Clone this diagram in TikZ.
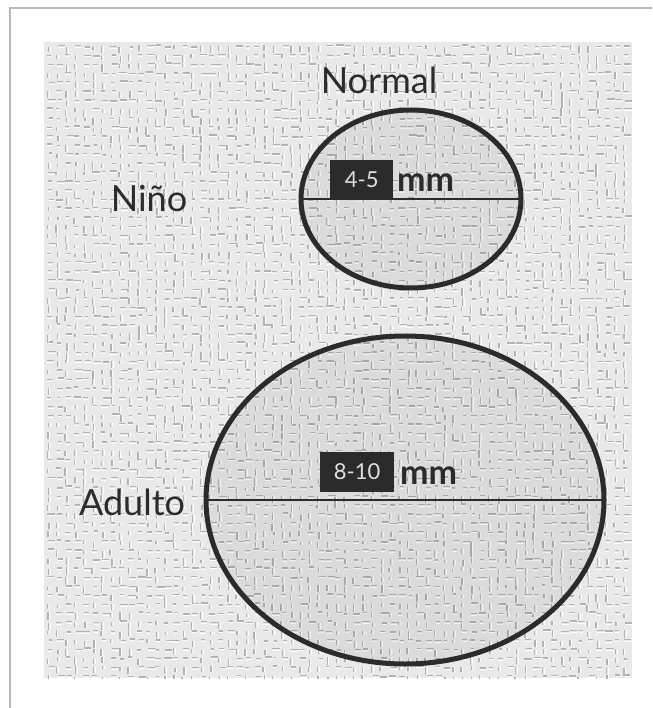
\documentclass[tikz,border=0pt]{standalone}
\usepackage{fontspec}
\setmainfont{Lato}
\usetikzlibrary{shapes.geometric}
\definecolor{ink}{HTML}{2B2B2B}
\definecolor{paper}{HTML}{E9E9E9}
\tikzset{
  frameline/.style={draw=gray!55, line width=1.5pt},
  weave/.style={draw=gray!60, line width=1.3pt},
  weavehi/.style={draw=white, line width=1pt},
  pupil/.style={ellipse, draw=ink, line width=5pt, inner sep=0pt, outer sep=0pt, fill=black, fill opacity=0.06},
  diam/.style={draw=ink, line width=2.2pt},
  label/.style={text=ink, font=\fontsize{36}{40}\selectfont, inner sep=0pt},
  valbox/.style={fill=ink, text=white!88!black, font=\fontsize{22}{24}\selectfont, inner sep=0pt, minimum height=40pt, anchor=south west},
  unit/.style={text=ink, font=\bfseries\fontsize{34}{38}\selectfont, inner sep=0pt, anchor=base west}
}
\begin{document}
\begin{tikzpicture}[x=1pt,y=-1pt]
\useasboundingbox (0,0) rectangle (652,708);
\fill[white] (0,0) rectangle (652,708);
\draw[frameline] (10,708) -- (10,8) -- (652,8);
% textured panel
\fill[paper] (44,42) rectangle (632,678);
\begin{scope}
\clip (44,42) rectangle (632,678);
\pgfmathsetseed{11}
\foreach \i in {0,...,64}{
  \foreach \j in {0,...,70}{
    \pgfmathsetmacro\xa{47+\i*9+2*rnd}
    \pgfmathsetmacro\ya{45+\j*9+2*rnd}
    \pgfmathsetmacro\len{3+5*rnd}
    \pgfmathparse{rnd<0.5 ? 1 : 0}
    \ifnum\pgfmathresult=1
      \draw[weave] (\xa,\ya) -- ++(\len,0);
      \draw[weavehi] (\xa,\ya+1.7) -- ++(\len,0);
    \else
      \draw[weave] (\xa,\ya) -- ++(0,\len);
      \draw[weavehi] (\xa+1.7,\ya) -- ++(0,\len);
    \fi
  }
}
\end{scope}
% child pupil
\node[pupil, minimum width=220pt, minimum height=178pt] (child) at (411,199) {};
\draw[diam] (child.west) -- (child.east);
\node[valbox, minimum width=63pt] (childval) at (330,200) {4-5};
\node[unit] (childunit) at (397,192) {mm};
% adult pupil
\node[pupil, minimum width=398pt, minimum height=328pt] (adult) at (405,500) {};
\draw[diam] (adult.west) -- (adult.east);
\node[valbox, minimum width=74pt] (adultval) at (320,492) {8-10};
\node[unit] (adultunit) at (400,484) {mm};
% labels
\node[label] (normal) at (379,80) {Normal};
\node[label] (nino) at (149,198) {Niño};
\node[label] (adulto) at (132,502) {Adulto};
\end{tikzpicture}
\end{document}
